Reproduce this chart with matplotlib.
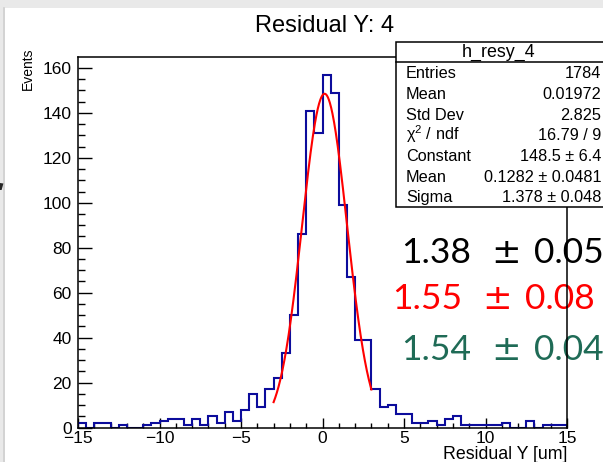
import numpy as np
import matplotlib
matplotlib.use("Agg")
import matplotlib.pyplot as plt
from matplotlib.patches import Rectangle, Polygon
from matplotlib.lines import Line2D
from matplotlib.ticker import MultipleLocator, FixedLocator

# ---- histogram data: residual Y, 60 bins from -15 to 15 um ----
x_low, x_high, n_bins = -15.0, 15.0, 60
counts = [2, 0, 2, 2, 0, 1, 0, 0, 1, 2, 3, 4, 4, 1, 4, 1, 5, 2, 7, 3,
          8, 15, 9, 17, 22, 33, 50, 86, 141, 131,
          157, 149, 99, 67, 39, 39, 17, 9, 10, 6,
          6, 2, 2, 3, 1, 4, 5, 1, 1, 1, 1, 1, 2, 0, 0, 3, 0, 1, 1, 1]

# gaussian fit result
fit_constant = 148.5
fit_mean = 0.1282
fit_sigma = 1.378
fit_range = (-3.0, 3.0)

# statistics box content
stats_title = "h_resy_4"
stats_labels = ["Entries", "Mean", "Std Dev", "\u03c7$^{2}$ / ndf", "Constant", "Mean", "Sigma"]
stats_values = ["1784", "0.01972", "2.825", "16.79 / 9", "148.5 \u00b1 6.4",
                "0.1282 \u00b1 0.0481", "1.378 \u00b1 0.048"]

# sigma comparison annotations
sigma_values = ["1.38", "1.55", "1.54"]
sigma_errors = ["0.05", "0.08", "0.04"]
sigma_colors = ["#000000", "#ff0000", "#1f6b56"]

title = "Residual Y: 4"
xlabel = "Residual Y [um]"
ylabel = "Events"
x_ticks = [-15, -10, -5, 0, 5, 10, 15]
y_ticks = [0, 20, 40, 60, 80, 100, 120, 140, 160]

W, H = 603, 462
plt.rcParams["font.family"] = ["Liberation Sans", "DejaVu Sans"]
plt.rcParams["mathtext.fontset"] = "custom"
plt.rcParams["mathtext.rm"] = "Liberation Sans"
plt.rcParams["mathtext.it"] = "Liberation Sans:italic"


def fx(px):
    return px / W


def fy(py):
    return 1.0 - py / H


fig = plt.figure(figsize=(W / 100, H / 100), dpi=100, facecolor="#e9e9e9")

# white canvas and frame decorations
fig.add_artist(Rectangle((fx(5), 0), 1 - fx(5), fy(8), transform=fig.transFigure,
                         facecolor="white", edgecolor="none", zorder=-5))
fig.add_artist(Line2D([fx(4.2), fx(4.2)], [0, fy(8)], transform=fig.transFigure,
                      color="#cfcfcf", lw=1.2, zorder=-4))
fig.add_artist(Polygon([(fx(0), fy(183)), (fx(3.4), fy(183.5)), (fx(1.6), fy(190)), (fx(0), fy(190))],
                       closed=True, transform=fig.transFigure, facecolor="#262626",
                       edgecolor="none", zorder=-4))

# axes frame
ax_l, ax_r, ax_t, ax_b = 78, 567, 57, 427.5
ax = fig.add_axes([fx(ax_l), fy(ax_b), fx(ax_r) - fx(ax_l), fy(ax_t) - fy(ax_b)])
ax.patch.set_visible(False)

edges = np.linspace(x_low, x_high, n_bins + 1)
ax.stairs(counts, edges, color="#0c0c9c", lw=1.5, baseline=0, zorder=2)

xf = np.linspace(fit_range[0], fit_range[1], 300)
yf = fit_constant * np.exp(-0.5 * ((xf - fit_mean) / fit_sigma) ** 2)
ax.plot(xf, yf, color="red", lw=1.5, zorder=3)

ax.set_xlim(x_low, x_high)
ax.set_ylim(0, 1.05 * max(counts))

ax.xaxis.set_major_locator(FixedLocator(x_ticks))
ax.xaxis.set_minor_locator(MultipleLocator(1))
ax.yaxis.set_major_locator(FixedLocator(y_ticks))
ax.yaxis.set_minor_locator(MultipleLocator(5))
ax.tick_params(axis="x", which="major", direction="in", length=7.2, width=1.0,
               pad=2.5, labelsize=12.5, top=False)
ax.tick_params(axis="x", which="minor", direction="in", length=3.6, width=1.0, top=False)
ax.tick_params(axis="y", which="major", direction="in", length=10, width=1.0,
               pad=4.5, labelsize=12.5, right=False)
ax.tick_params(axis="y", which="minor", direction="in", length=5, width=1.0, right=False)
for sp in ax.spines.values():
    sp.set_linewidth(1.1)
    sp.set_color("black")

ax.set_xlabel(xlabel, fontsize=12.8, loc="right")
ax.xaxis.set_label_coords(1.0, -(459 - ax_b) / (ax_b - ax_t))
ax.xaxis.label.set_va("baseline")
ax.set_ylabel(ylabel, fontsize=10, loc="top")
ax.yaxis.set_label_coords((28 - ax_l) / (ax_r - ax_l), 1.0 + 9 / (ax_b - ax_t))
ax.yaxis.label.set_va("center")

# title
fig.text(fx(325), fy(32.5), title, ha="center", va="baseline", fontsize=17)

# sigma comparison values (behind the axes frame)
big_fs = 25.5
rows_y = [263, 309, 360]
val_x = [401, 392, 401]
pm_x = [506, 497.5, 506]
err_x = [534, 525, 534]
for v, e, c, yb, xv, xp, xe in zip(sigma_values, sigma_errors, sigma_colors, rows_y, val_x, pm_x, err_x):
    fig.text(fx(xv), fy(yb), v, color=c, fontsize=big_fs, family="Lato", ha="left",
             va="baseline", zorder=-2)
    fig.text(fx(xp), fy(yb), "\u00b1", color=c, fontsize=big_fs, family="DejaVu Sans",
             ha="center", va="baseline", zorder=-2)
    fig.text(fx(xe), fy(yb), e, color=c, fontsize=big_fs, family="Lato", ha="left",
             va="baseline", zorder=-2)

# statistics box
box_l, box_t, box_b, box_sep = 396, 42, 207, 62
fig.add_artist(Rectangle((fx(box_l), fy(box_b)), fx(620) - fx(box_l), fy(box_t) - fy(box_b),
                         transform=fig.transFigure, facecolor="white", edgecolor="black",
                         lw=1.1, zorder=5))
fig.add_artist(Line2D([fx(box_l), fx(620)], [fy(box_sep), fy(box_sep)],
                      transform=fig.transFigure, color="black", lw=1.1, zorder=6))
fig.text(fx(499), fy(56.5), stats_title, ha="center", va="baseline", fontsize=12.9, zorder=7)
row_h = (box_b - box_sep) / len(stats_labels)
for i, (lab, val) in enumerate(zip(stats_labels, stats_values)):
    yc = box_sep + row_h * (i + 0.5)
    fig.text(fx(406), fy(yc + 5.8), lab, ha="left", va="baseline", fontsize=11.7, zorder=7)
    fig.text(fx(601), fy(yc + 5.8), val, ha="right", va="baseline", fontsize=11.7, zorder=7)

fig.savefig("out.png", dpi=100, facecolor=fig.get_facecolor())
